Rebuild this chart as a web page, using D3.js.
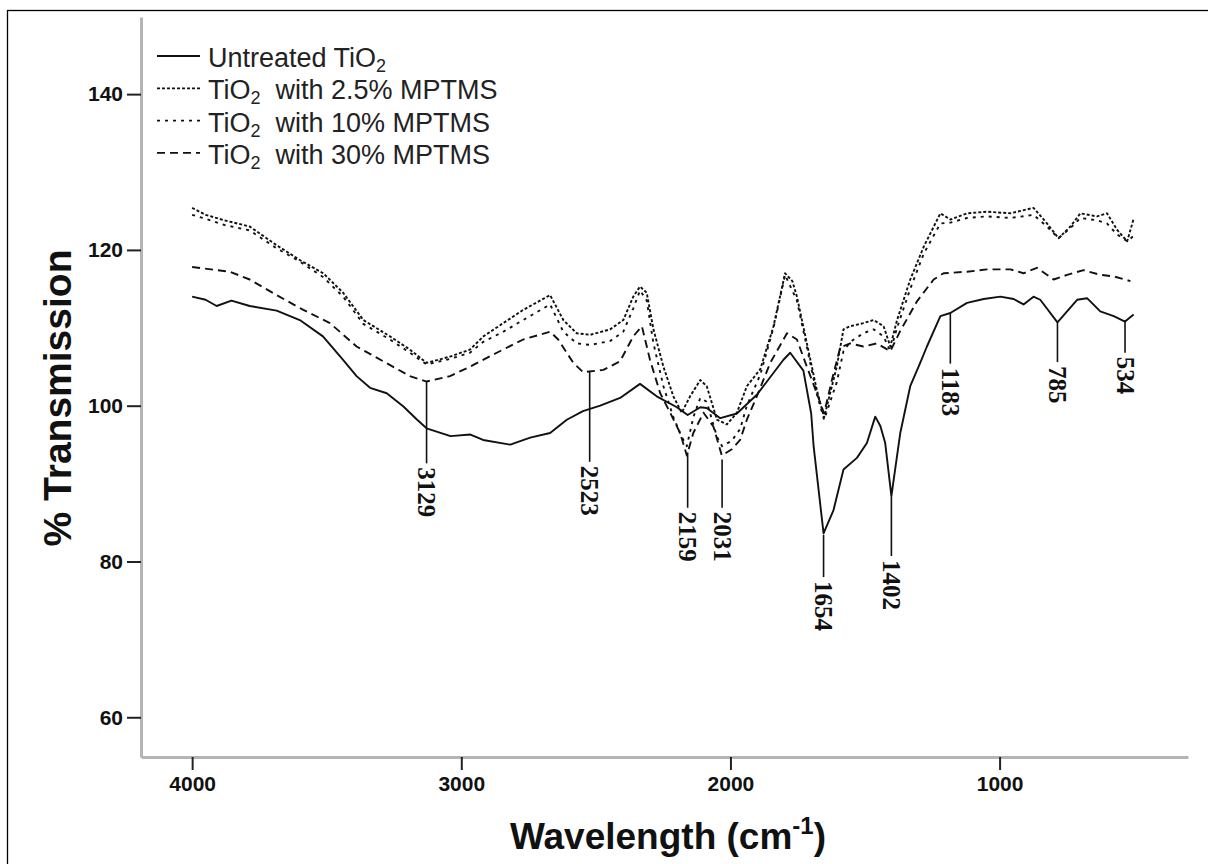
<!DOCTYPE html>
<html>
<head>
<meta charset="utf-8">
<script src="https://cdn.jsdelivr.net/npm/d3@7"></script>
<style>
    body { margin: 0; background: #fff; }
    svg { display: block; }
</style>
</head>
<body>
<div id="chart"></div>
<script>
// [wavenumber, % transmission]
const untreated = [
    [4000,114.0],[3950,113.6],[3909,112.8],[3854,113.5],[3786,112.8],[3686,112.2],[3600,111.0],
    [3514,108.9],[3440,105.9],[3389,103.8],[3339,102.3],[3277,101.6],[3215,99.9],[3164,98.2],
    [3129,97.1],[3040,96.1],[2966,96.3],[2919,95.6],[2818,95.0],[2744,95.9],[2670,96.5],
    [2608,98.2],[2548,99.3],[2484,100.0],[2410,101.0],[2336,102.8],[2274,101.2],[2199,99.8],
    [2159,98.8],[2112,99.8],[2088,99.7],[2038,98.4],[1976,99.0],[1902,101.4],[1803,105.9],
    [1778,106.8],[1729,104.5],[1700,99.0],[1691,94.8],[1654,83.6],[1617,86.6],[1580,91.8],
    [1530,93.3],[1493,95.2],[1462,98.6],[1443,97.4],[1425,95.2],[1402,88.4],[1369,96.5],
    [1332,102.5],[1295,105.5],[1270,107.6],[1220,111.5],[1183,111.9],[1121,113.2],[1059,113.7],
    [997,114.0],[948,113.7],[911,113.0],[874,114.0],[849,113.6],[785,110.7],[712,113.6],
    [675,113.8],[626,112.1],[576,111.5],[534,110.8],[502,111.7]
];

const mptms25 = [
    [4000,125.4],[3950,124.5],[3880,123.8],[3786,123.0],[3686,120.6],[3600,118.7],[3513,117.0],
    [3439,114.5],[3364,111.0],[3265,108.9],[3191,107.2],[3129,105.5],[3042,106.3],[2968,107.2],
    [2918,108.9],[2844,110.6],[2770,112.3],[2670,114.2],[2621,111.0],[2571,109.3],[2521,109.1],
    [2447,109.8],[2398,111.0],[2361,114.0],[2336,115.3],[2311,114.5],[2286,109.8],[2249,105.0],
    [2212,101.2],[2181,99.1],[2150,101.2],[2112,103.3],[2088,102.5],[2050,98.2],[2013,97.6],
    [1976,99.1],[1939,102.5],[1889,104.7],[1840,110.2],[1797,117.0],[1770,116.0],[1753,114.0],
    [1716,108.0],[1679,102.0],[1652,98.5],[1605,105.0],[1580,109.8],[1555,110.2],[1506,110.6],
    [1468,111.0],[1431,110.2],[1406,107.6],[1381,111.0],[1332,116.2],[1282,120.4],[1220,124.7],
    [1183,123.9],[1121,124.7],[1047,124.9],[960,124.7],[874,125.4],[824,123.4],[781,121.5],
    [737,123.0],[700,124.7],[638,124.3],[601,124.7],[564,122.6],[526,121.1],[502,124.0]
];

const mptms10 = [
    [4000,124.5],[3950,124.0],[3880,123.2],[3786,122.5],[3686,120.2],[3600,118.5],[3513,116.5],
    [3439,114.0],[3364,110.5],[3265,108.5],[3191,106.8],[3129,105.3],[3042,106.0],[2968,106.8],
    [2918,108.2],[2844,109.5],[2770,111.0],[2670,113.0],[2621,109.5],[2571,108.0],[2521,107.8],
    [2447,108.3],[2398,109.5],[2361,112.5],[2336,114.8],[2311,113.5],[2286,108.0],[2249,102.5],
    [2212,98.5],[2181,96.0],[2162,94.8],[2138,98.5],[2112,101.0],[2088,100.5],[2050,96.0],
    [2031,94.8],[1995,95.5],[1964,97.0],[1939,100.0],[1889,104.0],[1840,110.0],[1797,116.8],
    [1753,113.5],[1716,107.5],[1679,101.5],[1652,98.2],[1605,103.0],[1580,107.0],[1555,108.2],
    [1506,109.3],[1468,109.8],[1431,108.9],[1406,107.0],[1381,110.0],[1332,115.0],[1282,119.5],
    [1220,123.4],[1183,123.5],[1121,124.1],[1047,124.3],[960,124.1],[874,124.5],[824,123.0],
    [781,121.5],[737,122.8],[700,124.1],[638,123.8],[601,123.4],[564,122.0],[526,121.1],[502,121.8]
];

const mptms30 = [
    [4000,117.8],[3860,117.2],[3786,116.2],[3686,114.2],[3587,112.3],[3488,110.6],[3389,107.6],
    [3290,105.7],[3191,103.8],[3129,103.1],[3042,103.8],[2968,105.0],[2868,106.8],[2770,108.5],
    [2670,109.5],[2640,108.5],[2584,105.5],[2547,104.3],[2472,104.6],[2410,105.7],[2361,108.9],
    [2329,110.2],[2299,105.9],[2261,101.6],[2224,99.1],[2187,96.5],[2162,93.6],[2138,96.5],
    [2100,99.1],[2063,97.3],[2032,93.6],[1995,94.4],[1964,95.6],[1939,98.2],[1902,101.2],
    [1852,105.5],[1790,109.3],[1753,108.5],[1716,105.0],[1679,101.6],[1652,99.0],[1623,103.3],
    [1592,107.5],[1555,108.0],[1506,107.6],[1456,108.0],[1406,107.0],[1369,109.6],[1307,113.4],
    [1245,116.2],[1208,117.0],[1121,117.2],[1047,117.5],[960,117.5],[911,117.0],[861,117.7],
    [799,116.2],[749,116.8],[688,117.4],[626,116.8],[576,116.6],[514,116.0]
];

const seriesNames = ['Untreated TiO2', 'TiO2 with 2.5% MPTMS', 'TiO2 with 10% MPTMS', 'TiO2 with 30% MPTMS'];
const seriesData = [untreated, mptms25, mptms10, mptms30];

// peak annotations: wavenumber label, line top / bottom in % transmission
const peakLabels = ['3129', '2523', '2159', '2031', '1654', '1402', '1183', '785', '534'];
const peakTop    = [103.1, 104.4, 94.0, 93.1, 83.4, 88.3, 111.9, 110.7, 111.0];
const peakBottom = [92.6, 92.8, 86.9, 86.9, 78.0, 80.7, 105.4, 105.6, 106.8];

const xTicks = [4000, 3000, 2000, 1000];
const yTicks = [60, 80, 100, 120, 140];

const W = 1208, H = 864;
const dashes = [null, '3,2', '3,5', '8,5'];

const svg = d3.select('#chart').append('svg')
    .attr('width', W)
    .attr('height', H);

// outer frame
svg.append('rect')
    .attr('x', 7.5).attr('y', 10.5)
    .attr('width', 1220).attr('height', 880)
    .attr('fill', 'none')
    .attr('stroke', '#000')
    .attr('stroke-width', 1.3);

const x = d3.scaleLinear().domain([4190, 300]).range([141, 1188]);
const y = d3.scaleLinear().domain([54.9, 149.9]).range([757, 17]);

// axes
const xAxis = svg.append('g')
    .attr('transform', 'translate(0,757)')
    .call(d3.axisBottom(x).tickValues(xTicks).tickFormat(d3.format('d'))
        .tickSize(13).tickSizeOuter(0).tickPadding(6));
const yAxis = svg.append('g')
    .attr('transform', 'translate(141,0)')
    .call(d3.axisLeft(y).tickValues(yTicks).tickFormat(d3.format('d'))
        .tickSize(14).tickSizeOuter(0).tickPadding(4));

[xAxis, yAxis].forEach(a => {
    a.select('.domain').attr('stroke', '#b4b4b4').attr('stroke-width', 3);
    a.selectAll('.tick line').attr('stroke', '#222').attr('stroke-width', 2);
    a.selectAll('.tick text')
        .attr('fill', '#111')
        .style('font-family', 'Liberation Sans, Arial, sans-serif')
        .style('font-weight', 'bold')
        .style('font-size', '21px');
});

// curves
const line = d3.line()
    .x(d => x(d[0]))
    .y(d => y(d[1]));

seriesData.forEach((data, i) => {
    svg.append('path')
        .datum(data)
        .attr('d', line)
        .attr('fill', 'none')
        .attr('stroke', '#111')
        .attr('stroke-width', 1.9)
        .attr('stroke-linejoin', 'round')
        .attr('stroke-dasharray', dashes[i]);
});

// peak markers
const peaks = svg.append('g');
peakLabels.forEach((lab, i) => {
    const px = x(+lab);
    peaks.append('line')
        .attr('x1', px).attr('x2', px)
        .attr('y1', y(peakTop[i])).attr('y2', y(peakBottom[i]))
        .attr('stroke', '#111')
        .attr('stroke-width', 1.6);
    peaks.append('text')
        .attr('transform', `translate(${px},${y(peakBottom[i]) + 4}) rotate(90)`)
        .attr('dy', '0.34em')
        .style('font-family', 'Liberation Serif, Times New Roman, serif')
        .style('font-weight', 'bold')
        .style('font-size', '25px')
        .attr('fill', '#111')
        .text(lab);
});

// legend
const legend = svg.append('g');
seriesNames.forEach((name, i) => {
    const base = 67 + i * 32.3;
    legend.append('line')
        .attr('x1', 157).attr('x2', 200)
        .attr('y1', base - 11).attr('y2', base - 11)
        .attr('stroke', '#111')
        .attr('stroke-width', 1.8)
        .attr('stroke-dasharray', dashes[i]);
    const t = legend.append('text')
        .attr('x', 208).attr('y', base)
        .attr('fill', '#222')
        .style('font-family', 'Liberation Sans, Arial, sans-serif')
        .style('font-size', '27px');
    const parts = name.split('TiO2');
    t.append('tspan').text(parts[0] + 'TiO');
    t.append('tspan').attr('dy', 5).style('font-size', '18px').text('2');
    if (parts[1]) t.append('tspan').attr('dy', -5).text('\u00a0' + parts[1]);
});

// axis titles
svg.append('text')
    .attr('transform', 'translate(71,398) rotate(-90)')
    .attr('text-anchor', 'middle')
    .style('font-family', 'Liberation Sans, Arial, sans-serif')
    .style('font-weight', 'bold')
    .style('font-size', '39px')
    .attr('fill', '#111')
    .text('% Transmission');

const xt = svg.append('text')
    .attr('x', 668).attr('y', 849)
    .attr('text-anchor', 'middle')
    .style('font-family', 'Liberation Sans, Arial, sans-serif')
    .style('font-weight', 'bold')
    .style('font-size', '37px')
    .attr('fill', '#111');
xt.append('tspan').text('Wavelength (cm');
xt.append('tspan').attr('dy', -15).style('font-size', '24px').text('-1');
xt.append('tspan').attr('dy', 15).text(')');
</script>
</body>
</html>
